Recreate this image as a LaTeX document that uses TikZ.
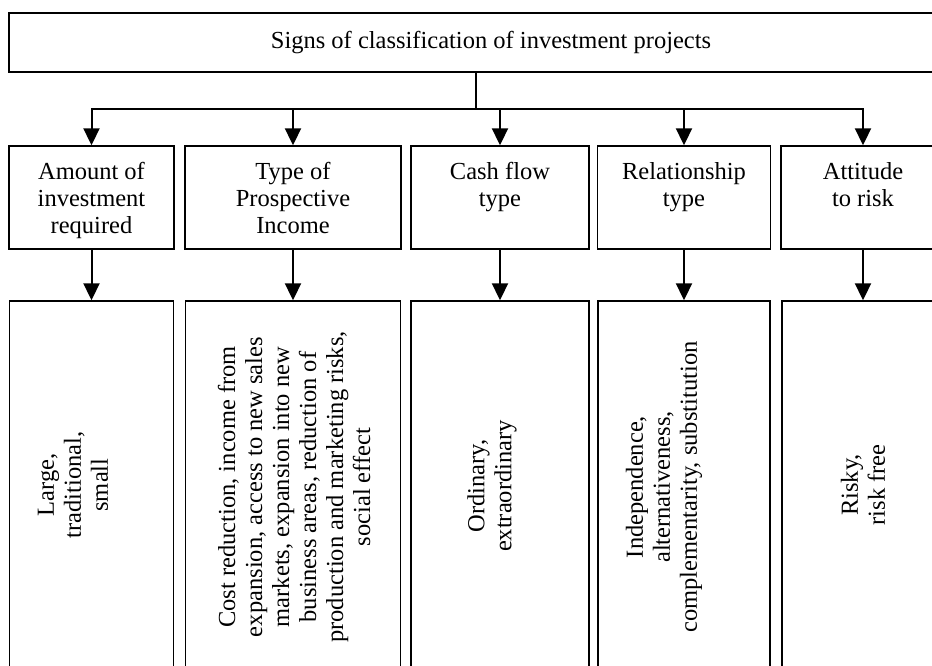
\documentclass[tikz,border=0pt]{standalone}
\usepackage{fontspec}
\setmainfont{Liberation Serif}
\usetikzlibrary{positioning, arrows.meta}

\begin{document}
\begin{tikzpicture}[x=1pt,y=-1pt,
    every node/.style={font=\fontsize{24.5}{27}\selectfont},
    box/.style={draw,line width=1.4pt,inner sep=0pt,minimum width=#1},
    head/.style={box=#1,minimum height=103pt},
    leaf/.style={box=#1,minimum height=400pt},
    headtext/.style={anchor=north,align=center,inner sep=0pt},
    leaftext/.style={rotate=90,align=center,inner sep=0pt},
    link/.style={line width=2pt},
    arr/.style={link,-{Triangle[length=17pt,width=16pt]}}]
  \useasboundingbox (0,0) rectangle (932,666);

  % root
  \node[box=964pt,minimum height=59pt] (root) at (491,42.5)
    {Signs of classification of investment projects};

  % second row
  \node[head=165pt] (h1) at (91.5,197.5) {};
  \node[head=216pt] (h2) at (293,197.5) {};
  \node[head=178pt] (h3) at (500,197.5) {};
  \node[head=173pt] (h4) at (684,197.5) {};
  \node[head=164pt] (h5) at (863,197.5) {};
  \node[headtext] at (h1.north |- 0,162) {Amount of\\investment\\required};
  \node[headtext] at (h2.north |- 0,162) {Type of\\Prospective\\Income};
  \node[headtext] at (h3.north |- 0,162) {Cash flow\\type};
  \node[headtext] at (h4.north |- 0,162) {Relationship\\type};
  \node[headtext] at (h5.north |- 0,162) {Attitude\\to risk};

  % third row
  \node[leaf=164pt] (l1) at (91.5,501) {};
  \node[leaf=215pt] (l2) at (293,501) {};
  \node[leaf=178pt] (l3) at (500,501) {};
  \node[leaf=172pt] (l4) at (684,501) {};
  \node[leaf=162pt] (l5) at (863,501) {};
  \node[leaftext] (t1) at (73,485) {Large,\\traditional,\\small};
  \node[leaftext] (t2) at (294,487) {Cost reduction, income from\\expansion, access to new sales\\markets, expansion into new\\business areas, reduction of\\production and marketing risks,\\social effect};
  \node[leaftext] (t3) at (492,486) {Ordinary,\\extraordinary};
  \node[leaftext] (t4) at (664,487) {Independence,\\alternativeness,\\complementarity, substitution};
  \node[leaftext] (t5) at (863,485) {Risky,\\risk free};

  % connectors
  \coordinate (s) at ([xshift=-15pt]root.south);
  \draw[link] (s) -- ++(0,36) coordinate (j);
  \draw[link,line cap=rect] (h1.north |- j) -- (h5.north |- j);
  \foreach \i in {1,...,5} {
    \draw[arr] (h\i.north |- j) -- (h\i.north);
    \draw[arr] (h\i) -- (l\i);
  }
\end{tikzpicture}
\end{document}
